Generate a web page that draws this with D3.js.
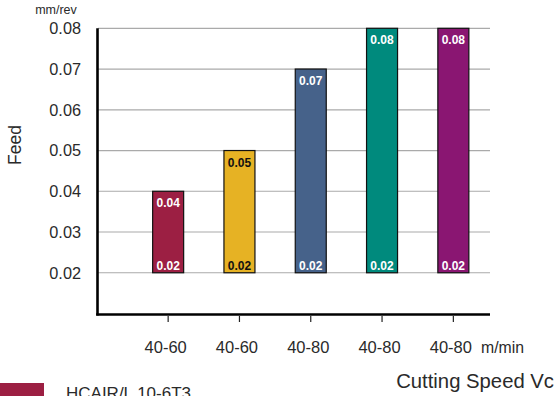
<!DOCTYPE html>
<html>
<head>
<meta charset="utf-8">
<script src="https://cdn.jsdelivr.net/npm/d3@7"></script>
<style>
html,body{margin:0;padding:0;background:#fff;overflow:hidden;}
svg{display:block;font-family:"Liberation Sans",Arial,Helvetica,sans-serif;}
</style>
</head>
<body>
<svg id="chart" width="560" height="396"></svg>
<script>
const categories = ["40-60", "40-60", "40-80", "40-80", "40-80"];
const lowValues  = [0.02, 0.02, 0.02, 0.02, 0.02];
const highValues = [0.04, 0.05, 0.07, 0.08, 0.08];
const barColors  = ["#9c1f43", "#e6b224", "#46628a", "#008a7d", "#8a1672"];
const labelColors = ["#fff", "#111", "#fff", "#fff", "#fff"];
const yTicks = [0.02, 0.03, 0.04, 0.05, 0.06, 0.07, 0.08];
const legendLabels = ["HCAIR/L 10-6T3"];

const svg = d3.select("#chart");
const idx = categories.map((d, i) => i);

const x = d3.scaleBand().domain(idx).range([132.5, 489]).padding(0);
const barW = 31;
const y = d3.scaleLinear().domain([0.01, 0.08]).range([313.5, 28.3]);
const textCol = "#2a2a2a";

// gridlines
svg.append("g").selectAll("line").data(yTicks).join("line")
  .attr("x1", 98).attr("x2", 490)
  .attr("y1", d => y(d)).attr("y2", d => y(d))
  .attr("stroke", "#aaaaaa").attr("stroke-width", 1.2);

// y tick labels
svg.append("g").selectAll("text").data(yTicks).join("text")
  .attr("x", 81).attr("y", d => y(d))
  .attr("dy", "0.36em")
  .attr("text-anchor", "end")
  .attr("font-size", 16.3)
  .attr("fill", textCol)
  .text(d => d3.format(".2f")(d));

// bars
const bars = svg.append("g").selectAll("g").data(idx).join("g");
bars.append("rect")
  .attr("x", i => x(i) + x.bandwidth() / 2 - barW / 2)
  .attr("y", i => y(highValues[i]))
  .attr("width", barW)
  .attr("height", i => y(lowValues[i]) - y(highValues[i]))
  .attr("fill", i => barColors[i])
  .attr("stroke", "#111").attr("stroke-width", 1.2);
bars.append("text")
  .attr("x", i => x(i) + x.bandwidth() / 2)
  .attr("y", i => y(highValues[i]) + 16)
  .attr("text-anchor", "middle")
  .attr("font-size", 12).attr("font-weight", "bold")
  .attr("fill", i => labelColors[i])
  .text(i => d3.format(".2f")(highValues[i]));
bars.append("text")
  .attr("x", i => x(i) + x.bandwidth() / 2)
  .attr("y", i => y(lowValues[i]) - 3)
  .attr("text-anchor", "middle")
  .attr("font-size", 12).attr("font-weight", "bold")
  .attr("fill", i => labelColors[i])
  .text(i => d3.format(".2f")(lowValues[i]));

// axes lines
svg.append("line").attr("x1", 97.5).attr("x2", 97.5).attr("y1", y(0.08)).attr("y2", 315.5)
  .attr("stroke", "#000").attr("stroke-width", 2.6);
svg.append("line").attr("x1", 96.2).attr("x2", 490).attr("y1", 314.5).attr("y2", 314.5)
  .attr("stroke", "#000").attr("stroke-width", 2.6);

// x ticks
svg.append("g").selectAll("line").data(idx).join("line")
  .attr("x1", i => x(i) + x.bandwidth() / 2).attr("x2", i => x(i) + x.bandwidth() / 2)
  .attr("y1", 316).attr("y2", 322)
  .attr("stroke", "#222").attr("stroke-width", 1.2);
svg.append("g").selectAll("text").data(idx).join("text")
  .attr("x", i => x(i) + x.bandwidth() / 2 - 2.5)
  .attr("y", 353)
  .attr("text-anchor", "middle")
  .attr("font-size", 16.5)
  .attr("fill", textCol)
  .text(i => categories[i]);

svg.append("text").attr("x", 481).attr("y", 353)
  .attr("font-size", 15.8).attr("fill", textCol).text("m/min");
svg.append("text").attr("x", 554).attr("y", 388)
  .attr("text-anchor", "end")
  .attr("font-size", 20.3).attr("fill", textCol).text("Cutting Speed Vc");
svg.append("text").attr("x", 56).attr("y", 14)
  .attr("text-anchor", "middle")
  .attr("font-size", 12.5).attr("fill", textCol).text("mm/rev");
svg.append("text")
  .attr("transform", "translate(21,145) rotate(-90)")
  .attr("text-anchor", "middle")
  .attr("font-size", 17.5).attr("fill", textCol).text("Feed");

// legend (cut off at the bottom, as in the reference)
const lg = svg.append("g").selectAll("g").data(legendLabels).join("g");
lg.append("rect").attr("x", 0).attr("y", (d, i) => 383 + i * 24)
  .attr("width", 44).attr("height", 20).attr("fill", (d, i) => barColors[i]);
lg.append("text").attr("x", 66).attr("y", (d, i) => 399 + i * 24)
  .attr("font-size", 17).attr("fill", textCol).text(d => d);
</script>
</body>
</html>
